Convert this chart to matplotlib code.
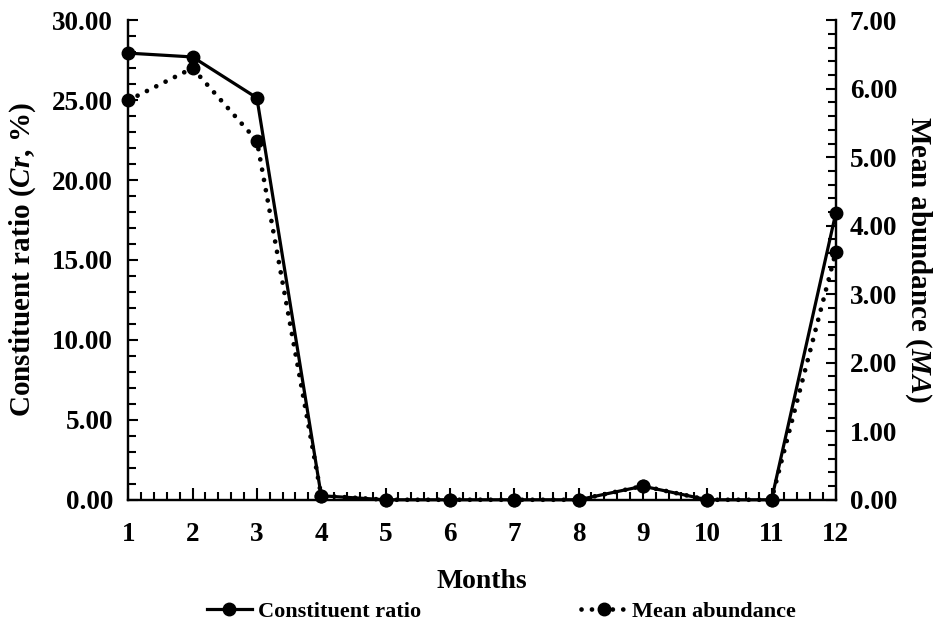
import matplotlib
matplotlib.use("Agg")
import matplotlib.pyplot as plt
from matplotlib.ticker import MultipleLocator, FormatStrFormatter

# 資料
months = [1, 2, 3, 4, 5, 6, 7, 8, 9, 10, 11, 12]
constituent_ratio = [27.94, 27.70, 25.14, 0.25, 0, 0, 0, 0, 0.85, 0, 0, 17.95]
mean_abundance = [5.83, 6.30, 5.24, 0.06, 0, 0, 0, 0, 0.20, 0, 0, 3.62]

plt.rcParams['font.family'] = ['Liberation Serif']
plt.rcParams['font.weight'] = 'bold'
plt.rcParams['mathtext.fontset'] = 'custom'
plt.rcParams['mathtext.it'] = 'Liberation Serif:bold:italic'
plt.rcParams['mathtext.rm'] = 'Liberation Serif:bold'

fig = plt.figure(figsize=(9.36, 6.31), dpi=100)
ax = fig.add_axes([0.137, 0.208, 0.756, 0.760])
ax2 = ax.twinx()

l1, = ax.plot(months, constituent_ratio, color='black', lw=2.3, marker='o',
              ms=9, label='Constituent ratio', clip_on=False, zorder=5)
l2, = ax2.plot(months, mean_abundance, color='black', lw=3.4,
               linestyle=(0, (0.01, 2.2)), dash_capstyle='round', marker='o',
               ms=9, label='Mean abundance', clip_on=False, zorder=5)

ax.set_xlim(1, 12)
ax.set_ylim(0, 30)
ax2.set_ylim(0, 7)

ax.xaxis.set_major_locator(MultipleLocator(1))
ax.xaxis.set_minor_locator(MultipleLocator(0.2))
ax.yaxis.set_major_locator(MultipleLocator(5))
ax.yaxis.set_minor_locator(MultipleLocator(1))
ax2.yaxis.set_major_locator(MultipleLocator(1))
ax2.yaxis.set_minor_locator(MultipleLocator(0.2))
ax.yaxis.set_major_formatter(FormatStrFormatter('%.2f'))
ax2.yaxis.set_major_formatter(FormatStrFormatter('%.2f'))

for a in (ax, ax2):
    a.spines['top'].set_visible(False)
    for s in a.spines.values():
        s.set_linewidth(1.6)
    a.tick_params(which='both', direction='in', width=1.5, labelsize=19.5)
    a.tick_params(which='major', length=7)
    a.tick_params(which='minor', length=6)
ax.tick_params(axis='x', which='major', length=9, pad=16)
ax.tick_params(axis='y', pad=11)
ax2.tick_params(axis='y', pad=10)

ax.set_xlabel('Months', fontsize=20, fontweight='bold', labelpad=16)
ax.set_ylabel(r'Constituent ratio ($Cr$, %)', fontsize=21, fontweight='bold', labelpad=10)
ax2.set_ylabel(r'Mean abundance ($MA$)', fontsize=21, fontweight='bold',
               rotation=270, labelpad=26)

fig.legend(handles=[l1, l2], loc='center', bbox_to_anchor=(0.536, 0.031),
           ncol=2, frameon=False, fontsize=16, handlelength=2.0,
           handletextpad=0.3, columnspacing=7.2)

fig.savefig('out.png', dpi=100)
